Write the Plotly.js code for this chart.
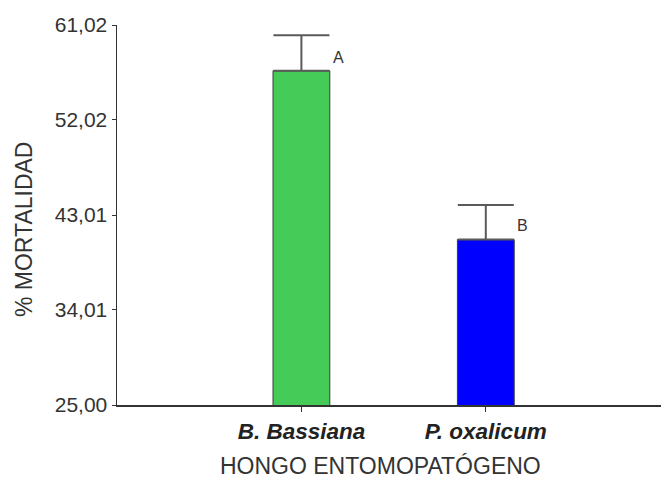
<!DOCTYPE html>
<html>
<head>
<meta charset="utf-8">
<script src="https://cdn.plot.ly/plotly-3.0.1.min.js"></script>
<style>html,body{margin:0;padding:0;background:#fff;}#chart{width:661px;height:480px;}</style>
</head>
<body>
<div id="chart"></div>
<script>
const categories = ["<b><i>B. Bassiana</i></b>", "<b><i>P. oxalicum</i></b>"];
const mortalityMeans = [56.68, 40.68];
const mortalityErrors = [3.36, 3.28];
const groupLetters = ["A", "B"];
const yTickValues = [25.00, 34.01, 43.01, 52.02, 61.02];
const yTickLabels = ["25,00", "34,01", "43,01", "52,02", "61,02"];
const xTitle = "HONGO ENTOMOPATÓGENO";
const yTitle = "% MORTALIDAD";

const barColors = ["#45CC58", "#0000FF"];
const textColor = "#333333";
const fontFamily = "Liberation Sans, Arial, sans-serif";

const trace = {
  type: "bar",
  x: [0, 1],
  y: mortalityMeans,
  width: 0.308,
  marker: { color: barColors, line: { color: "#3a3a3a", width: 1 } },
  error_y: {
    type: "data",
    symmetric: false,
    array: mortalityErrors,
    arrayminus: mortalityErrors.map(() => 0),
    color: "#5a5a5a",
    thickness: 2,
    width: 28
  },
  hoverinfo: "none"
};

const annotations = groupLetters.map((t, i) => ({
  x: i + 0.2,
  y: mortalityMeans[i] + 1.3,
  text: t,
  showarrow: false,
  font: { family: fontFamily, size: 16, color: textColor },
  xanchor: "center",
  yanchor: "middle"
}));
annotations.push({
  xref: "paper", yref: "paper", x: 0.4835, y: -0.1605,
  text: xTitle, showarrow: false, xanchor: "center", yanchor: "middle",
  font: { family: fontFamily, size: 23, color: textColor }
});
annotations.push({
  xref: "paper", yref: "paper", x: -0.171, y: 0.463,
  text: yTitle, showarrow: false, xanchor: "center", yanchor: "middle", textangle: -90,
  font: { family: fontFamily, size: 23, color: textColor }
});

const layout = {
  width: 661,
  height: 480,
  margin: { l: 117, r: 0, t: 25, b: 75 },
  paper_bgcolor: "#ffffff",
  plot_bgcolor: "#ffffff",
  showlegend: false,
  font: { family: fontFamily, color: textColor },
  xaxis: {
    range: [-1, 1.95],
    tickvals: [0, 1],
    ticktext: categories,
    showline: true,
    linecolor: "#333333",
    linewidth: 1.5,
    ticks: "outside",
    ticklen: 5,
    tickcolor: "#333333",
    showgrid: false,
    zeroline: false,
    tickfont: { family: fontFamily, size: 22.5, color: "#222222" }
  },
  yaxis: {
    range: [25, 61.02],
    tickvals: yTickValues,
    ticktext: yTickLabels,
    showline: true,
    linecolor: "#333333",
    linewidth: 1.5,
    ticks: "outside",
    ticklen: 4,
    tickcolor: "#333333",
    showgrid: false,
    zeroline: false,
    tickfont: { family: fontFamily, size: 21, color: textColor }
  },
  annotations: annotations
};

Plotly.newPlot("chart", [trace], layout, { displayModeBar: false, staticPlot: true });
</script>
</body>
</html>
